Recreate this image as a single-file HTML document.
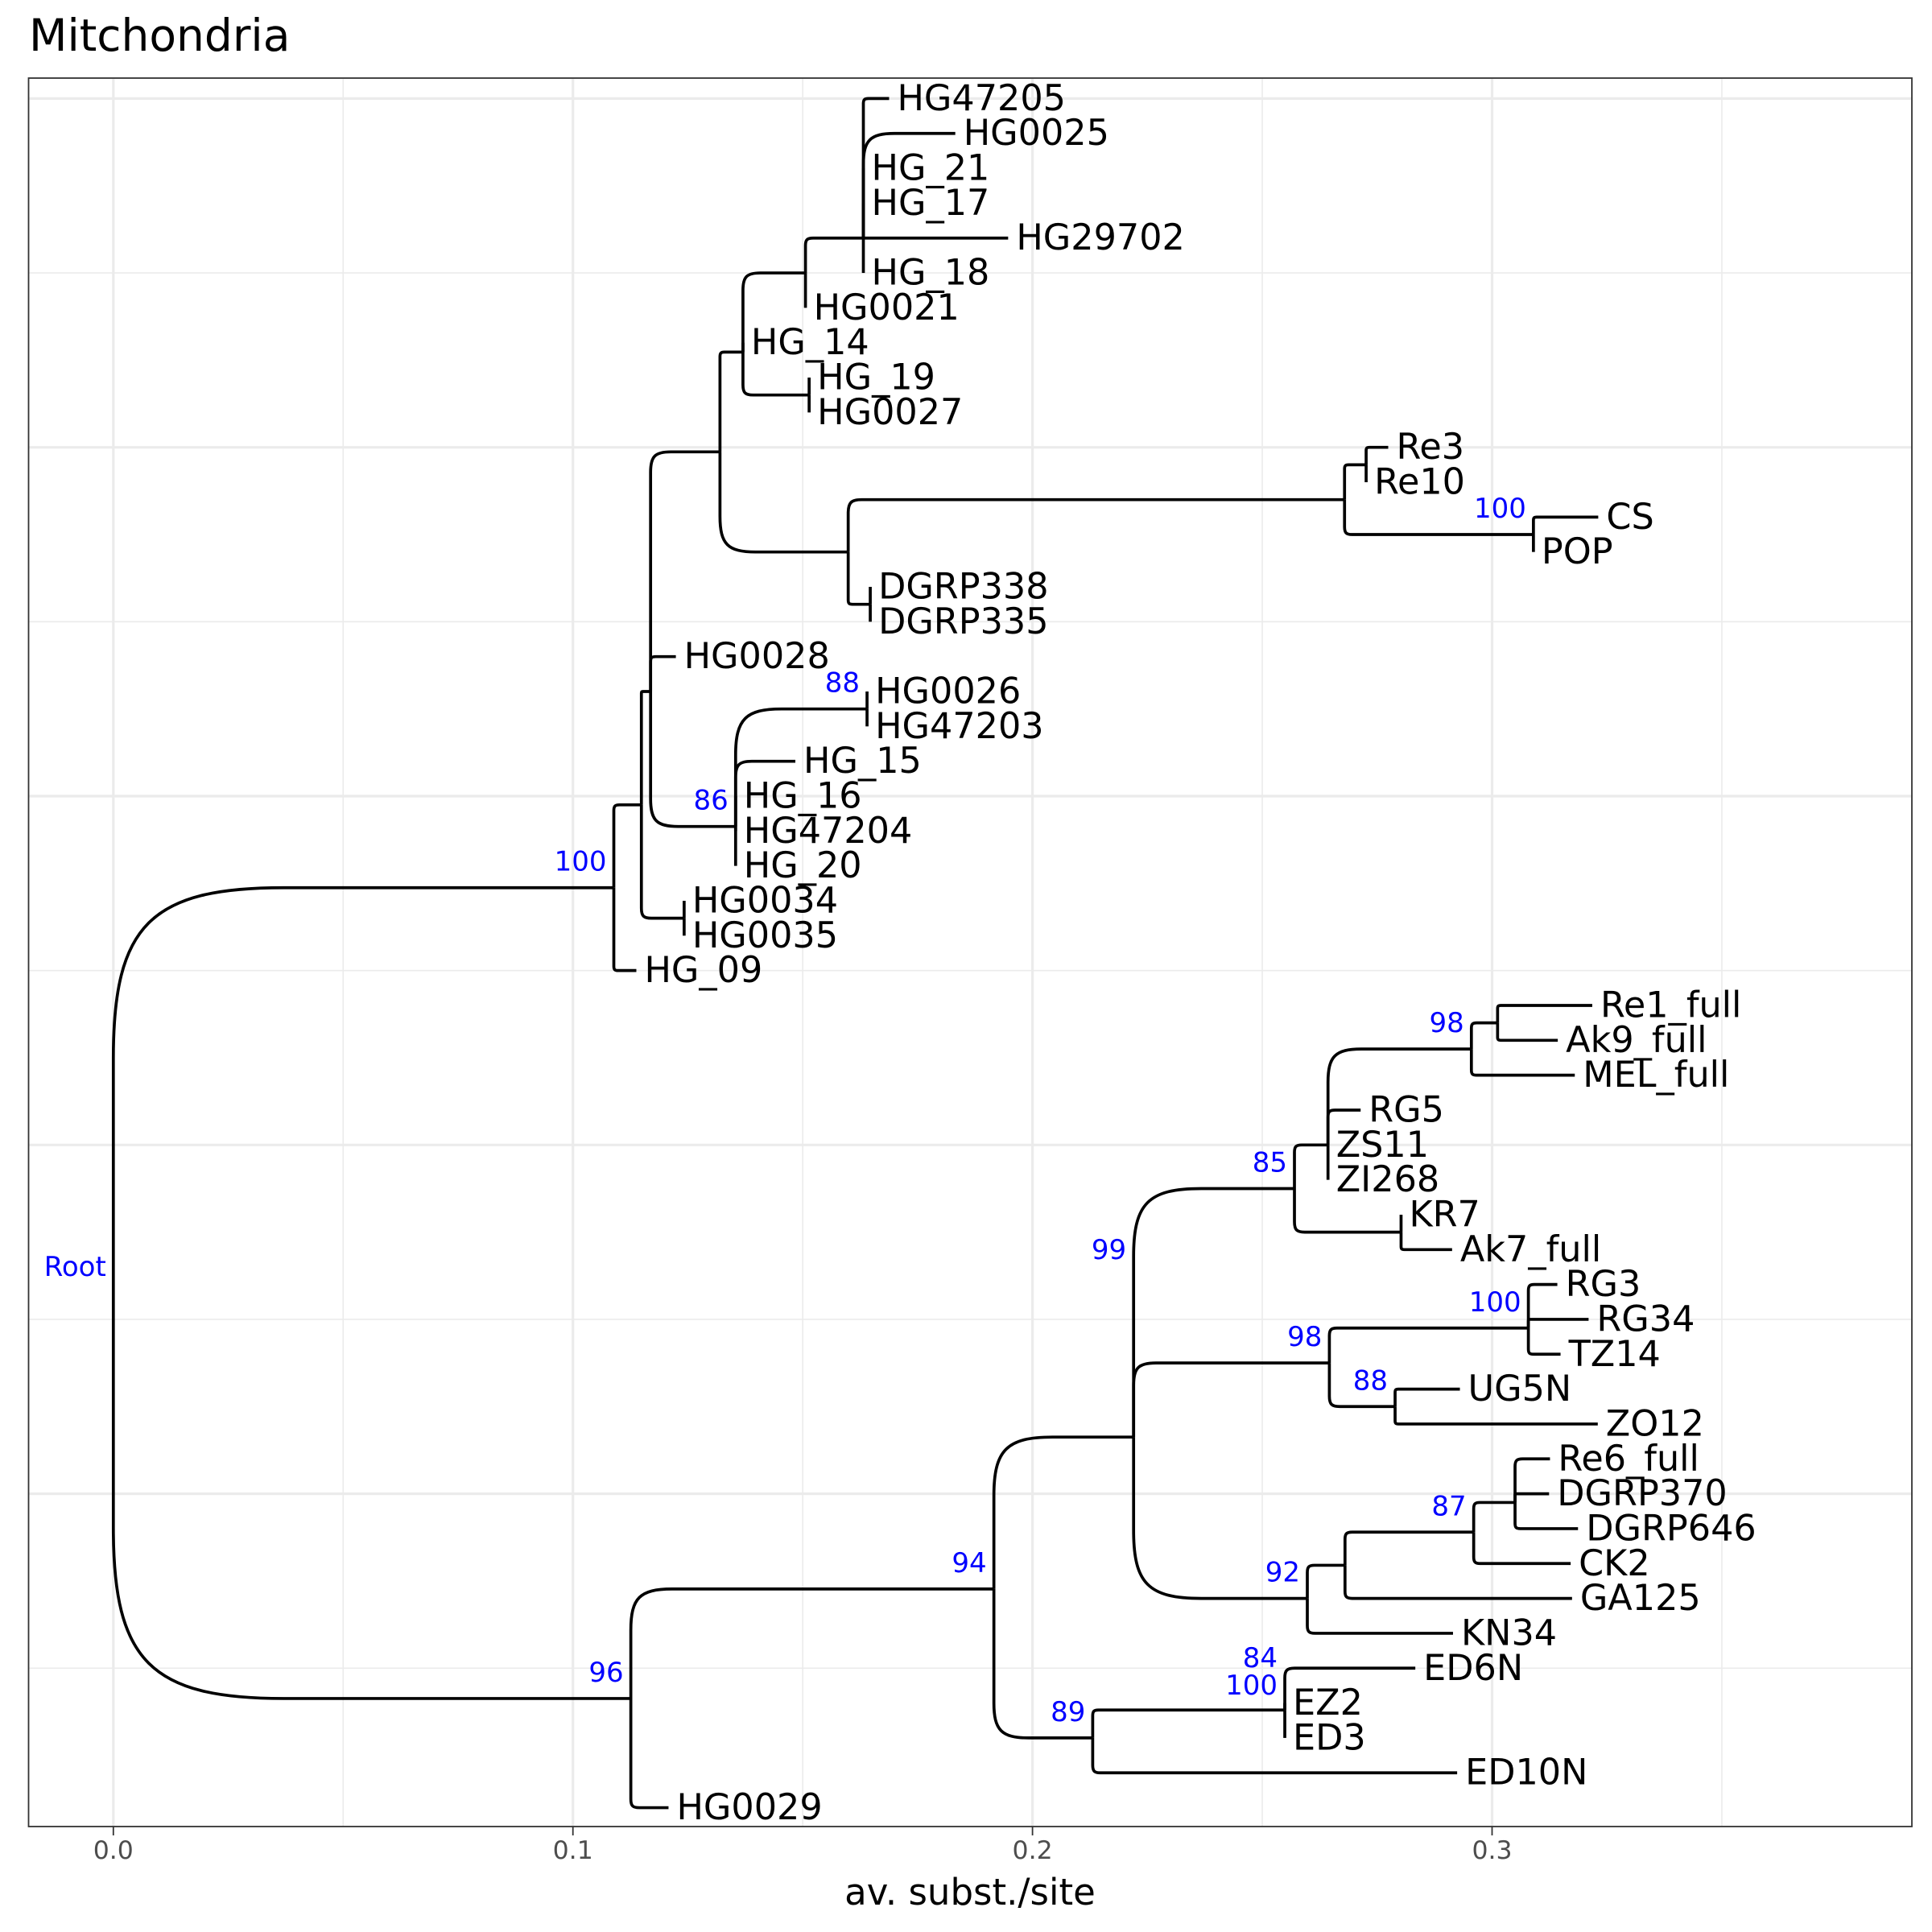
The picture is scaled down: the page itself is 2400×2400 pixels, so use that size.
<!DOCTYPE html>
<html><head><meta charset="utf-8"><title>Mitchondria tree</title>
<style>
html,body{margin:0;padding:0;background:#fff;}
svg{display:block;font-family:"DejaVu Sans","Liberation Sans",sans-serif;}
</style></head>
<body>
<svg id="chart" width="2400" height="2400" viewBox="0 0 2400 2400" xmlns="http://www.w3.org/2000/svg">
<rect x="0" y="0" width="2400" height="2400" fill="#fff"/>
<text x="36" y="63" font-size="55" fill="#000">Mitchondria</text>
<g id="grid"></g>
<g id="branches"></g>
<g id="tips"></g>
<g id="boot"></g>
<rect x="35.5" y="97" width="2339.5" height="2172" fill="none" stroke="#333" stroke-width="1.8"/>
<g id="axis"></g>
<text x="1205" y="2366" font-size="45" fill="#000" text-anchor="middle">av. subst./site</text>
</svg>
<script>
// Internal nodes: name, x (subst./site), y (leaf slot), parent
const nodeNames = ["Root","A","C11","C8","C5","C3","C2","C1","C4","C6","C7","C14","C15","C9","C10","C13","C12","F","E1","D1","D2","D5","D7","D8","D6","D3","D9","D10","D4","D11","D12","D13","E2","E3"];
const nodeX = [0,0.1089,0.1149,0.1169,0.1320,0.1370,0.1506,0.1632,0.1514,0.1599,0.2679,0.2726,0.3090,0.1647,0.1354,0.1640,0.1242,0.1126,0.1916,0.2220,0.2570,0.2643,0.2955,0.3012,0.2802,0.2646,0.3079,0.2789,0.2598,0.2680,0.2960,0.3050,0.2131,0.2549];
const nodeY = [35.24,23.625,21.25,18.0,11.13,8.27,6,5,9.5,14,12.5,11.5,13.5,15.5,21.87,18.5,24.5,46.87,43.73,39.375,32.25,31,28.25,27.5,33.5,37.25,36.25,38.5,44,43.05,42.1,41.25,48,47.2];
const nodeParent = ["","Root","A","C11","C8","C5","C3","C2","C3","C5","C6","C7","C7","C6","C8","C10","C11","Root","F","E1","D1","D2","D5","D7","D2","D1","D3","D3","D1","D4","D11","D12","E1","E2"];
// Tips in display order (slot 1..50)
const tipNames = ["HG47205","HG0025","HG_21","HG_17","HG29702","HG_18","HG0021","HG_14","HG_19","HG0027","Re3","Re10","CS","POP","DGRP338","DGRP335","HG0028","HG0026","HG47203","HG_15","HG_16","HG47204","HG_20","HG0034","HG0035","HG_09","Re1_full","Ak9_full","MEL_full","RG5","ZS11","ZI268","KR7","Ak7_full","RG3","RG34","TZ14","UG5N","ZO12","Re6_full","DGRP370","DGRP646","CK2","GA125","KN34","ED6N","EZ2","ED3","ED10N","HG0029"];
const tipX = [0.1688,0.1832,0.1632,0.1632,0.1947,0.1632,0.1506,0.1370,0.1514,0.1514,0.2774,0.2726,0.3231,0.3090,0.1647,0.1647,0.1224,0.1640,0.1640,0.1484,0.1354,0.1354,0.1354,0.1242,0.1242,0.1138,0.3218,0.3143,0.3180,0.2714,0.2643,0.2643,0.2802,0.2913,0.3142,0.3210,0.3149,0.2930,0.3230,0.3126,0.3124,0.3187,0.3171,0.3174,0.2915,0.2833,0.2549,0.2549,0.2924,0.1208];
const tipParent = ["C1","C1","C1","C1","C1","C1","C2","C3","C4","C4","C14","C14","C15","C15","C9","C9","C8","C13","C13","C10","C10","C10","C10","C12","C12","A","D8","D8","D7","D5","D5","D5","D6","D6","D9","D9","D9","D10","D10","D13","D13","D13","D12","D11","D4","E3","E3","E3","E2","F"];
// Bootstrap / node labels: text, x (subst.), y (slot)
const bootText = ["Root","100","88","86","100","98","85","99","100","98","88","87","92","94","89","84","100","96"];
const bootX = [0,0.1089,0.1640,0.1354,0.3090,0.2955,0.2570,0.2220,0.3079,0.2646,0.2789,0.2960,0.2598,0.1916,0.2131,0.2549,0.2549,0.1126];
const bootY = [35.24,23.625,18.5,21.87,13.5,28.25,32.25,34.75,36.25,37.25,38.5,42.1,44,43.73,48,46.46,47.24,46.87];
const xTicks = [0,0.1,0.2,0.3];
const xTickLabels = ["0.0","0.1","0.2","0.3"];
const xMinor = [0.05,0.15,0.25,0.35];
const yMajorSlots = [1,11,21,31,41];
const yMinorSlots = [6,16,26,36,46];

const NS="http://www.w3.org/2000/svg";
const X0=140.8, XS=5709, PL=35.5, PR=2375, PT=97, PB=2269;
function sx(v){return X0+v*XS;}
function sy(i){return 122.4+(i-1)*43.33;}
function mk(tag,attrs,parent){const e=document.createElementNS(NS,tag);for(const k in attrs)e.setAttribute(k,attrs[k]);parent.appendChild(e);return e;}

const grid=document.getElementById('grid');
xMinor.forEach(v=>{const l=mk('line',{x1:sx(v),x2:sx(v),y1:PT,y2:PB,stroke:'#ebebeb','stroke-width':1.6},grid);

});
yMinorSlots.forEach(i=>{const l=mk('line',{x1:PL,x2:PR,y1:sy(i),y2:sy(i),stroke:'#ebebeb','stroke-width':1.6},grid);

});
xTicks.forEach(v=>{const l=mk('line',{x1:sx(v),x2:sx(v),y1:PT,y2:PB,stroke:'#ebebeb','stroke-width':3.2},grid);

});
yMajorSlots.forEach(i=>{const l=mk('line',{x1:PL,x2:PR,y1:sy(i),y2:sy(i),stroke:'#ebebeb','stroke-width':3.2},grid);

});

const nodeIdx={};nodeNames.forEach((n,i)=>nodeIdx[n]=i);
const br=document.getElementById('branches');
function branch(px,py,cx,cy,name){
  const dx=cx-px, dy=cy-py, ady=Math.abs(dy);
  let d;
  if(ady<0.5){d=`M${px},${cy}L${cx},${cy}`;}
  else if(dx<0.5){d=`M${px},${py}L${px},${cy}`;}
  else{
    const m=Math.min(dx,ady);
    const r=Math.min(0.42*m*Math.min(1,0.35+m/250), dx);
    const s=dy>0?1:-1, k=0.78;
    d=`M${px},${py}L${px},${cy-s*r}C${px},${cy-s*r*(1-k)} ${px+r*(1-k)},${cy} ${px+r},${cy}L${cx},${cy}`;
  }
  const p=mk('path',{d:d,fill:'none',stroke:'#000','stroke-width':3.7,'stroke-linejoin':'round'},br);
  
  
}
nodeNames.forEach((n,i)=>{
  if(!nodeParent[i])return;
  const p=nodeIdx[nodeParent[i]];
  branch(sx(nodeX[p]),sy(nodeY[p]),sx(nodeX[i]),sy(nodeY[i]),'branch-'+n.toLowerCase());
});
const tips=document.getElementById('tips');
tipNames.forEach((n,i)=>{
  const p=nodeIdx[tipParent[i]];
  const slot=i+1;
  branch(sx(nodeX[p]),sy(nodeY[p]),sx(tipX[i]),sy(slot),'branch-'+n.toLowerCase());
  const t=mk('text',{x:sx(tipX[i])+10,y:sy(slot),'font-size':44.5,'dominant-baseline':'central',fill:'#000'},tips);
  t.textContent=n;
  
  
});
const boot=document.getElementById('boot');
bootText.forEach((s,i)=>{
  const t=mk('text',{x:sx(bootX[i])-9,y:sy(bootY[i])-32,'font-size':34,'dominant-baseline':'central','text-anchor':'end',fill:'#0000ff'},boot);
  t.textContent=s;
  
  
});
const ax=document.getElementById('axis');
xTicks.forEach((v,i)=>{
  const l=mk('line',{x1:sx(v),x2:sx(v),y1:PB,y2:PB+11,stroke:'#333','stroke-width':1.8},ax);
  
  
  const t=mk('text',{x:sx(v),y:2299,'font-size':31.5,'text-anchor':'middle','dominant-baseline':'central',fill:'#4d4d4d'},ax);
  t.textContent=xTickLabels[i];
  
  
});
</script>
</body></html>
